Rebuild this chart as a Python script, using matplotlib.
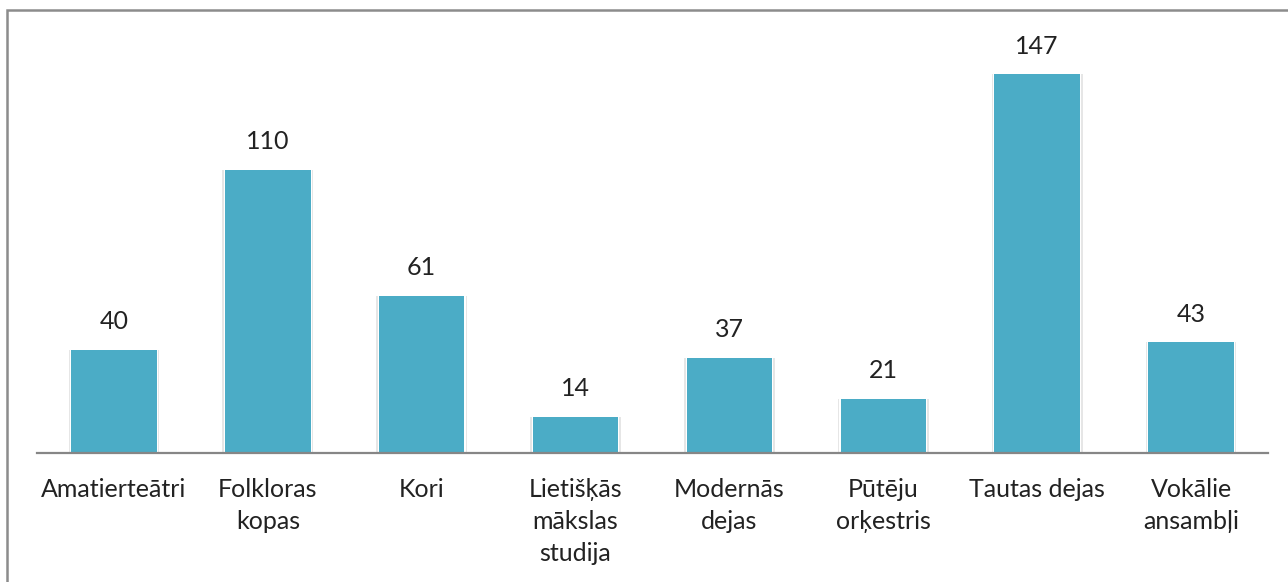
import matplotlib.pyplot as plt
from matplotlib.patches import Rectangle

categories = ["Amatierteātri", "Folkloras\nkopas", "Kori", "Lietišķās\nmākslas\nstudija",
              "Modernās\ndejas", "Pūtēju\norķestris", "Tautas dejas", "Vokālie\nansambļi"]
values = [40, 110, 61, 14, 37, 21, 147, 43]

plt.rcParams['font.family'] = ['Lato', 'DejaVu Sans']

fig = plt.figure(figsize=(12.88, 5.82), dpi=100)
ax = fig.add_axes([37/1288, 129/582, 1231/1288, 412/582])

x = range(len(values))
# faint shadow behind the bars
ax.bar(x, values, width=0.59, color='#e6e6e6', zorder=1)
ax.bar(x, values, width=0.57, color='white', zorder=2)
bars = ax.bar(x, values, width=0.555, color='#4BACC6', zorder=3)

for b, v in zip(bars, values):
    ax.text(b.get_x() + b.get_width()/2, v + 6.5, str(v), ha='center', va='bottom',
            fontsize=18, color='#222222')

ax.set_xlim(-0.5, len(values) - 0.5)
ax.set_ylim(0, 160)
ax.set_yticks([])
ax.set_xticks(list(x))
ax.set_xticklabels(categories, fontsize=18, color='#222222', linespacing=1.48)
ax.tick_params(axis='x', length=0, pad=18)
for s in ['top', 'left', 'right']:
    ax.spines[s].set_visible(False)
ax.spines['bottom'].set_color('#868686')
ax.spines['bottom'].set_linewidth(1.6)
ax.spines['bottom'].set_zorder(4)

# outer chart frame
fig.patches.append(Rectangle((7/1288, -0.05), 1.1, 1 - 10/582 + 0.05, transform=fig.transFigure,
                             fill=False, edgecolor='#8c8c8c', linewidth=1.8))

fig.savefig('out.png', dpi=100)
